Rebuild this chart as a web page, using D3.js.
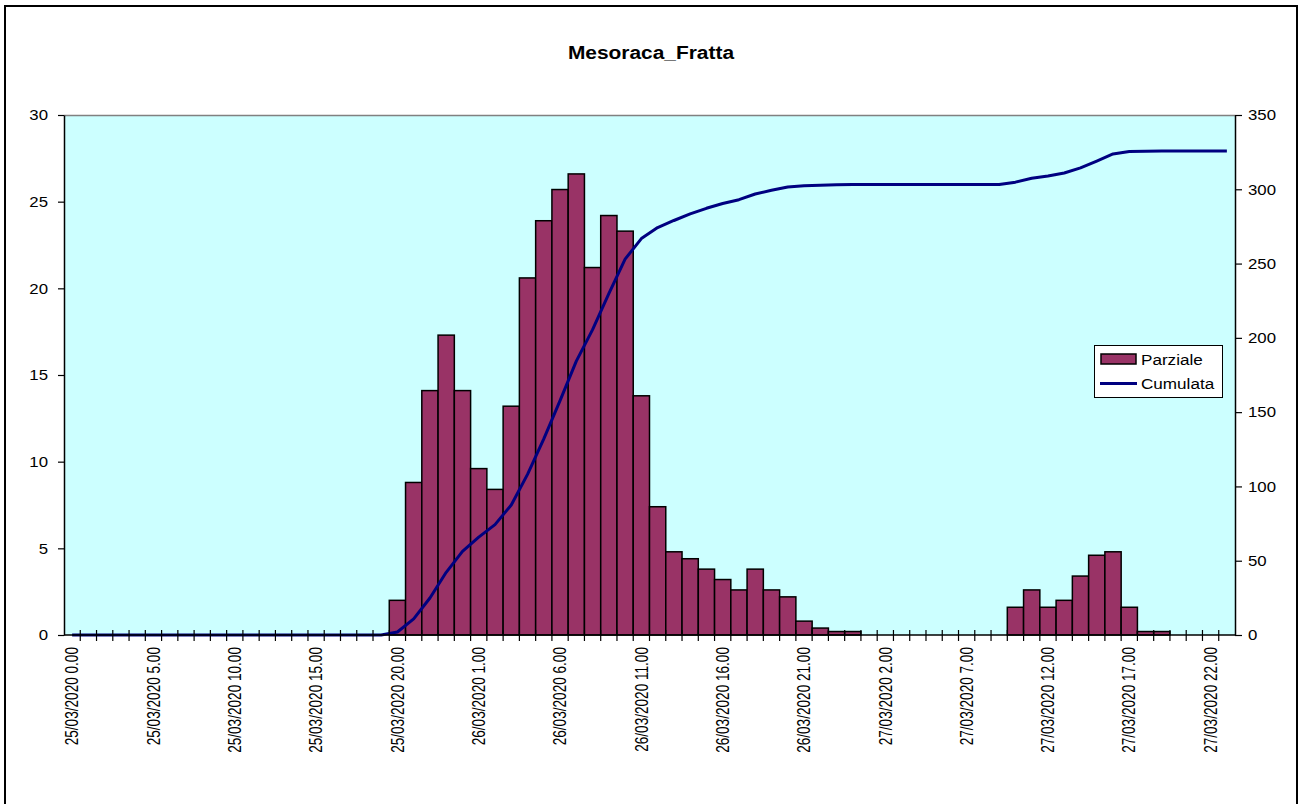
<!DOCTYPE html>
<html><head><meta charset="utf-8">
<script src="https://cdn.jsdelivr.net/npm/d3@7"></script>
<style>body{margin:0;background:#fff}svg{display:block}</style>
</head><body>
<svg id="chart" width="1299" height="804"></svg>
<script>
const title = "Mesoraca_Fratta";
const days = ["25/03/2020", "26/03/2020", "27/03/2020"];
const hours = ["0.00","1.00","2.00","3.00","4.00","5.00","6.00","7.00","8.00","9.00","10.00","11.00","12.00","13.00","14.00","15.00","16.00","17.00","18.00","19.00","20.00","21.00","22.00","23.00"];
const categories = [];
days.forEach(d => hours.forEach(h => categories.push(d + " " + h)));

const parziale = [
  0,0,0,0,0,0,0,0,0,0,0,0,0,0,0,0,0,0,0,0,
  2.0,8.8,14.1,17.3,
  14.1,9.6,8.4,13.2,20.6,23.9,25.7,26.6,21.2,24.2,23.3,13.8,7.4,4.8,4.4,3.8,3.2,2.6,3.8,2.6,2.2,0.8,0.4,0.2,
  0.2,0,0,0,0,0,0,0,0,0,1.6,2.6,1.6,2.0,3.4,4.6,4.8,1.6,0.2,0.2,0,0,0,0
];
const cumulata = [
  0,0,0,0,0,0,0,0,0,0,0,0,0,0,0,0,0,0,0,0,
  2.0,10.8,24.9,42.2,
  56.3,65.9,74.3,87.5,108.1,132.0,157.7,184.3,205.5,229.7,253.0,266.8,274.2,279.0,283.4,287.2,290.4,293.0,296.8,299.4,301.6,302.4,302.8,303.0,
  303.2,303.2,303.2,303.2,303.2,303.2,303.2,303.2,303.2,303.2,304.8,307.4,309.0,311.0,314.4,319.0,323.8,325.4,325.6,325.8,325.8,325.8,325.8,325.8
];
const leftTicks = [0,5,10,15,20,25,30];
const rightTicks = [0,50,100,150,200,250,300,350];
const seriesNames = ["Parziale", "Cumulata"];

const FONT = "'Liberation Sans', Arial, sans-serif";
const svg = d3.select("#chart");
const L = 64, R = 1235, T = 115, B = 635;

// outer frame
svg.append("rect").attr("x",5).attr("y",6).attr("width",1292).attr("height",810)
  .attr("fill","#fff").attr("stroke","#000").attr("stroke-width",2);

svg.append("text").attr("x",651).attr("y",59).attr("text-anchor","middle")
  .attr("font-family",FONT).attr("font-weight","bold").attr("font-size",19)
  .attr("transform","translate(651,0) scale(1.1,1) translate(-651,0)")
  .text(title);

const x = d3.scaleBand().domain(categories).range([L,R]).paddingInner(0).paddingOuter(0);
const yL = d3.scaleLinear().domain([0,30]).range([B,T]);
const yR = d3.scaleLinear().domain([0,350]).range([B,T]);

// plot background
svg.append("rect").attr("x",L).attr("y",T).attr("width",R-L).attr("height",B-T).attr("fill","#CCFFFF");
svg.append("line").attr("x1",L).attr("x2",R).attr("y1",T+0.5).attr("y2",T+0.5).attr("stroke","#808080").attr("stroke-width",1.5);

// bars
svg.append("g").selectAll("rect")
  .data(categories.map((c,i)=>({c, v:parziale[i]})).filter(d=>d.v>0)).join("rect")
  .attr("x",d=>x(d.c)).attr("width",x.bandwidth())
  .attr("y",d=>yL(d.v)).attr("height",d=>B-yL(d.v))
  .attr("fill","#993366").attr("stroke","#000").attr("stroke-width",1.5);

// line
const line = d3.line().x((d,i)=>x(categories[i])+x.bandwidth()/2).y(d=>yR(d));
svg.append("path").datum(cumulata).attr("d",line).attr("fill","none")
  .attr("stroke","#000080").attr("stroke-width",3).attr("stroke-linejoin","round");

// left axis
const gL = svg.append("g").attr("transform",`translate(${L},0)`)
  .call(d3.axisLeft(yL).tickValues(leftTicks).tickSize(6).tickSizeOuter(0).tickPadding(10));
// right axis
const gR = svg.append("g").attr("transform",`translate(${R},0)`)
  .call(d3.axisRight(yR).tickValues(rightTicks).tickSize(7).tickSizeOuter(0).tickPadding(6));
[gL,gR].forEach(g=>{
  g.select(".domain").attr("stroke","#000").attr("stroke-width",1.5);
  g.selectAll(".tick line").attr("stroke","#000").attr("stroke-width",1.2);
  g.selectAll("text").attr("font-family",FONT).attr("font-size",15).attr("fill","#000");
});
gL.selectAll(".tick text").attr("transform","translate(-16,0) scale(1.12,1) translate(16,0)");
gR.selectAll(".tick text").attr("transform","translate(13,0) scale(1.12,1) translate(-13,0)");

// bottom axis: tick marks at category boundaries
const gB = svg.append("g").attr("transform",`translate(0,${B})`);
gB.append("line").attr("x1",L).attr("x2",R).attr("stroke","#000").attr("stroke-width",1.5);
gB.selectAll("line.tk").data(categories.slice(1)).join("line").attr("class","tk")
  .attr("x1",d=>x(d)).attr("x2",d=>x(d)).attr("y1",-5).attr("y2",6)
  .attr("stroke","#000").attr("stroke-width",1.2);
gB.selectAll("text").data(categories.filter((d,i)=>i%5===0)).join("text")
  .attr("transform",d=>`translate(${x(d)+x.bandwidth()/2},12) scale(1.3,1) rotate(-90)`)
  .attr("text-anchor","end").attr("dy","0.35em")
  .attr("font-family",FONT).attr("font-size",13.6).attr("fill","#000")
  .text(d=>d);

// legend
const lg = svg.append("g");
lg.append("rect").attr("x",1094.5).attr("y",345.5).attr("width",128).attr("height",52)
  .attr("fill","#fff").attr("stroke","#000").attr("stroke-width",1);
lg.append("rect").attr("x",1101).attr("y",354).attr("width",35).attr("height",10)
  .attr("fill","#993366").attr("stroke","#000").attr("stroke-width",1.5);
lg.append("line").attr("x1",1100).attr("x2",1137).attr("y1",383.5).attr("y2",383.5)
  .attr("stroke","#000080").attr("stroke-width",3);
lg.selectAll("text").data(seriesNames).join("text")
  .attr("x",1141).attr("y",(d,i)=>365+i*24)
  .attr("font-family",FONT).attr("font-size",14.5).attr("fill","#000")
  .attr("transform","translate(1141,0) scale(1.18,1) translate(-1141,0)")
  .text(d=>d);
</script>
</body></html>
